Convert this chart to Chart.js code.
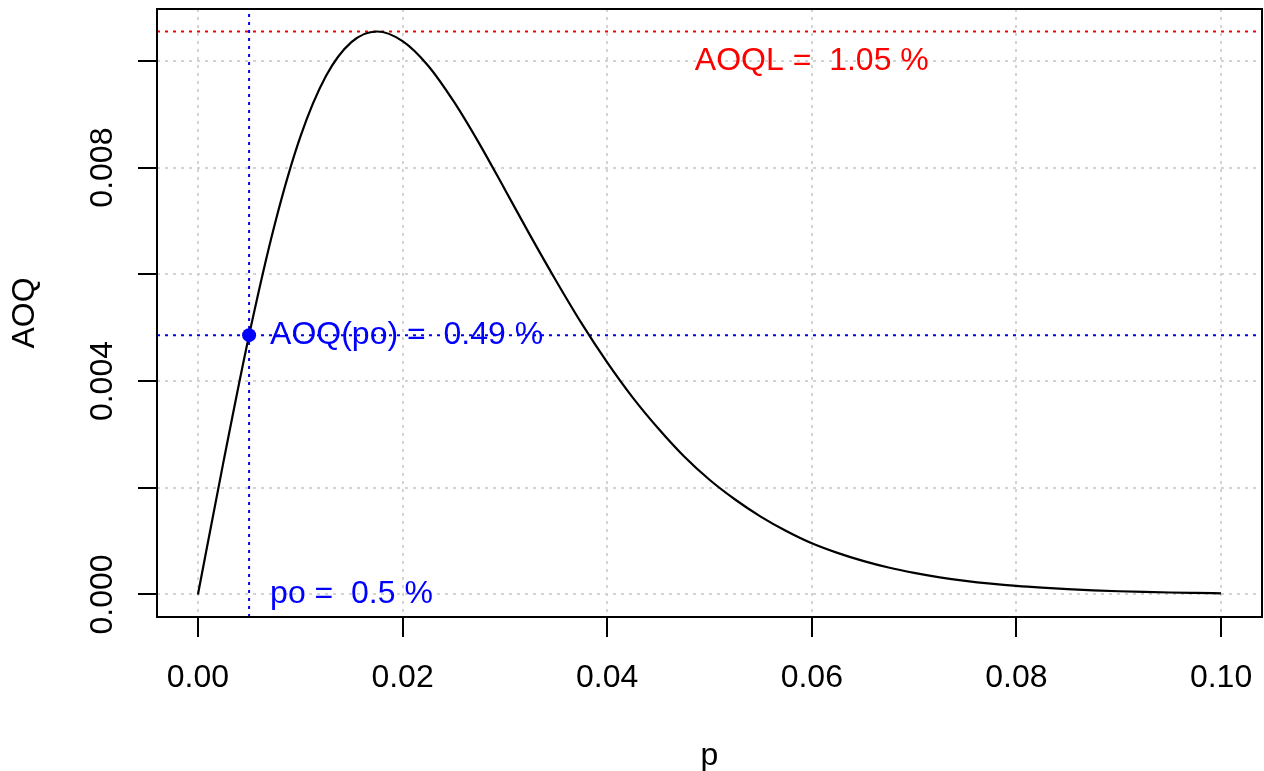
<!DOCTYPE html>
<html>
<head>
<meta charset="utf-8">
<script src="https://cdn.jsdelivr.net/npm/chart.js@4.4.0/dist/chart.umd.min.js"></script>
<style>
  html, body { margin: 0; padding: 0; background: #fff; }
  #myChart { display: block; }
</style>
</head>
<body>
<canvas id="myChart" width="1264" height="771"></canvas>
<script>
// fraction defective p and the AOQ
const pValues = [
  0, 0.0025, 0.005, 0.0075, 0.01, 0.0125, 0.015, 0.0175, 0.02, 0.0225,
  0.025, 0.0275, 0.03, 0.0325, 0.035, 0.0375, 0.04, 0.0425, 0.045, 0.0475,
  0.05, 0.0525, 0.055, 0.0575, 0.06, 0.0625, 0.065, 0.0675, 0.07, 0.0725,
  0.075, 0.0775, 0.08, 0.0825, 0.085, 0.0875, 0.09, 0.0925, 0.095, 0.0975, 0.1
];
const aoqValues = [
  0, 0.00249, 0.00486, 0.00693, 0.00857, 0.00971, 0.01035, 0.01055, 0.01037, 0.00991,
  0.00924, 0.00845, 0.00759, 0.00672, 0.00588, 0.00508, 0.00435, 0.00369, 0.00311, 0.00259,
  0.00215, 0.00178, 0.00146, 0.00119, 0.00096, 0.00078, 0.00063, 0.000505, 0.000405, 0.000322,
  0.000256, 0.000203, 0.00016, 0.000127, 0.0001, 0.000078, 0.000061, 0.000048, 0.000037, 0.000029, 0.000022
];

const xTicks = [0, 0.02, 0.04, 0.06, 0.08, 0.10];
const xTickLabels = ["0.00", "0.02", "0.04", "0.06", "0.08", "0.10"];
const yTicks = [0, 0.002, 0.004, 0.006, 0.008, 0.010];
const yTickLabels = ["0.000", "", "0.004", "", "0.008", ""];

const po = 0.005;
const aoqPo = 0.00486;
const aoql = 0.01055;
const xRange = [-0.004, 0.104];
const yRange = [-0.000422, 0.010972];

const aoqlLabel = "AOQL =  1.05 %";
const aoqPoLabel = "AOQ(po) =  0.49 %";
const poLabel = "po =  0.5 %";

const FONT = "'Liberation Sans', Arial, sans-serif";
Chart.defaults.font.family = FONT;
Chart.defaults.color = "#000";

// texts, y tick labels and the box (R style)
const rPlot = {
  id: "rPlot",
  beforeDatasetsDraw(chart) {
    const { ctx, scales: { x, y } } = chart;
    ctx.save();
    ctx.font = "32px " + FONT;
    ctx.textBaseline = "middle";
    ctx.fillStyle = "#FF0000";
    ctx.textAlign = "center";
    ctx.fillText(aoqlLabel, x.getPixelForValue(0.06), y.getPixelForValue(0.0100));
    ctx.fillStyle = "#0000FF";
    ctx.textAlign = "left";
    ctx.fillText(aoqPoLabel, x.getPixelForValue(po) + 21, y.getPixelForValue(aoqPo));
    ctx.fillText(poLabel, x.getPixelForValue(po) + 21, y.getPixelForValue(0));
    ctx.restore();
  },
  afterDraw(chart) {
    const { ctx, chartArea: a, scales: { y } } = chart;
    ctx.save();
    ctx.strokeStyle = "#000";
    ctx.lineWidth = 2;
    ctx.strokeRect(a.left, a.top, a.right - a.left, a.bottom - a.top);

    ctx.font = "32px " + FONT;
    ctx.fillStyle = "#000";
    ctx.textAlign = "center";
    ctx.textBaseline = "alphabetic";
    yTicks.forEach((v, i) => {
      if (!yTickLabels[i]) return;
      ctx.save();
      ctx.translate(a.left - 45, y.getPixelForValue(v));
      ctx.rotate(-Math.PI / 2);
      ctx.fillText(yTickLabels[i], 0, 0);
      ctx.restore();
    });
    ctx.restore();
  }
};

const dotted = [3, 5];

const ctx = document.getElementById("myChart").getContext("2d");
const chart = new Chart(ctx, {
  type: "line",
  data: {
    datasets: [
      {
        data: [{ x: po, y: aoqPo }],
        showLine: false,
        pointRadius: 7,
        pointBackgroundColor: "#0000FF",
        pointBorderColor: "#0000FF",
        pointBorderWidth: 0
      },
      {
        data: pValues.map((p, i) => ({ x: p, y: aoqValues[i] })),
        borderColor: "#000",
        borderWidth: 2.2,
        pointRadius: 0,
        cubicInterpolationMode: "monotone"
      },
      {
        data: [{ x: xRange[0], y: aoql }, { x: xRange[1], y: aoql }],
        borderColor: "#FF0000",
        borderWidth: 2,
        borderDash: dotted,
        pointRadius: 0
      },
      {
        data: [{ x: xRange[0], y: aoqPo }, { x: xRange[1], y: aoqPo }],
        borderColor: "#0000FF",
        borderWidth: 2,
        borderDash: dotted,
        pointRadius: 0
      },
      {
        data: [{ x: po, y: yRange[0] }, { x: po, y: yRange[1] }],
        borderColor: "#0000FF",
        borderWidth: 2,
        borderDash: dotted,
        pointRadius: 0
      }
    ]
  },
  options: {
    responsive: false,
    animation: false,
    events: [],
    layout: { autoPadding: false, padding: { top: 9, right: 2, left: 0, bottom: 0 } },
    plugins: {
      legend: { display: false },
      tooltip: { enabled: false }
    },
    scales: {
      x: {
        type: "linear",
        min: xRange[0],
        max: xRange[1],
        afterBuildTicks: axis => { axis.ticks = xTicks.map(v => ({ value: v })); },
        afterFit: scale => {
          scale.height = 154;
          scale.paddingLeft = 0;
          scale.paddingRight = 0;
        },
        ticks: {
          autoSkip: false,
          maxRotation: 0,
          padding: 22,
          font: { size: 32 },
          color: "#000",
          callback: (v, i) => xTickLabels[i]
        },
        grid: {
          color: "#D3D3D3",
          lineWidth: 2,
          drawTicks: true,
          tickLength: 20,
          tickColor: "#000",
          tickWidth: 2,
          tickBorderDash: []
        },
        border: { display: false, dash: dotted },
        title: {
          display: true,
          text: "p",
          font: { size: 32 },
          color: "#000",
          padding: { top: 0, bottom: -4 }
        }
      },
      y: {
        type: "linear",
        min: yRange[0],
        max: yRange[1],
        afterBuildTicks: axis => { axis.ticks = yTicks.map(v => ({ value: v })); },
        afterFit: scale => {
          scale.width = 157;
          scale.paddingTop = 0;
          scale.paddingBottom = 0;
        },
        ticks: { display: false },
        grid: {
          color: "#D3D3D3",
          lineWidth: 2,
          drawTicks: true,
          tickLength: 19,
          tickColor: "#000",
          tickWidth: 2,
          tickBorderDash: []
        },
        border: { display: false, dash: dotted },
        title: {
          display: true,
          text: "AOQ",
          font: { size: 32 },
          color: "#000",
          padding: { top: 6, bottom: 0 }
        }
      }
    }
  },
  plugins: [rPlot]
});
</script>
</body>
</html>
